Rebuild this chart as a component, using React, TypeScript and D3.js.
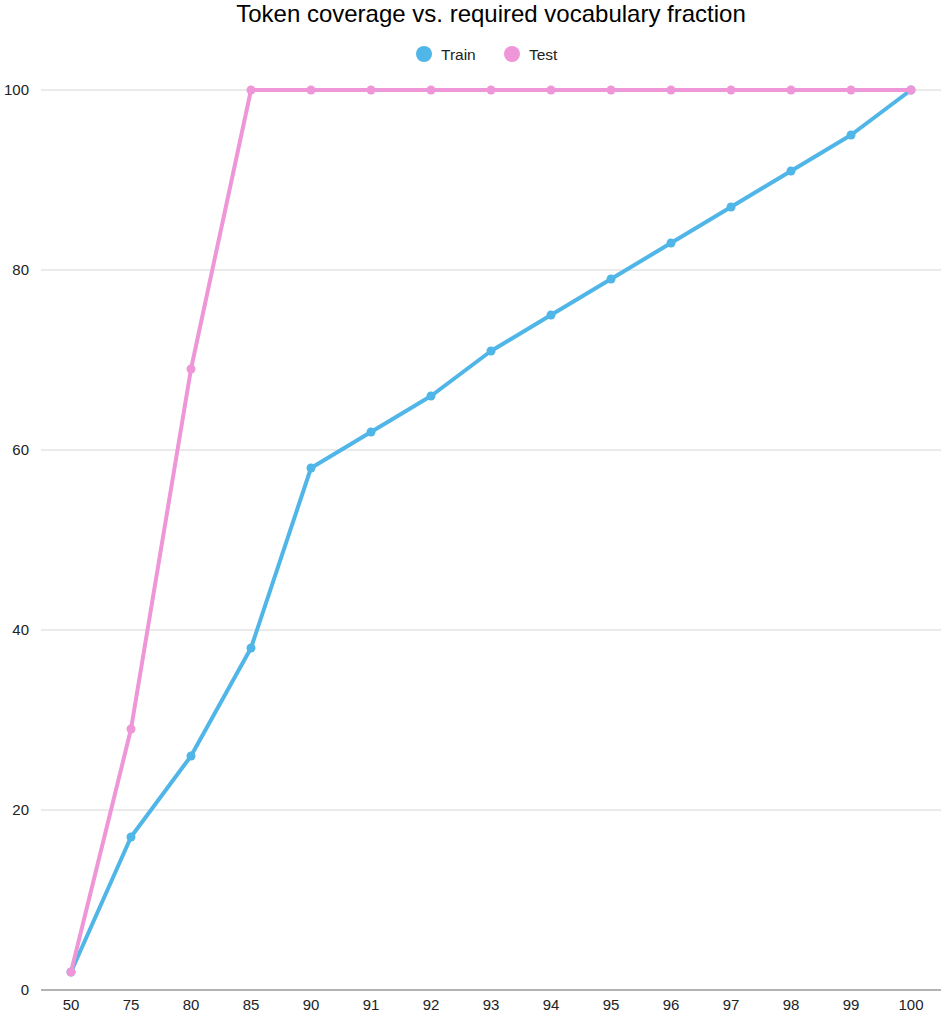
import * as d3 from "d3";

const categories = ["50", "75", "80", "85", "90", "91", "92", "93", "94", "95", "96", "97", "98", "99", "100"];
const trainValues = [2, 17, 26, 38, 58, 62, 66, 71, 75, 79, 83, 87, 91, 95, 100];
const testValues = [2, 29, 69, 100, 100, 100, 100, 100, 100, 100, 100, 100, 100, 100, 100];
const yTicks = [0, 20, 40, 60, 80, 100];

const series = [
  { name: "Train", values: trainValues, color: "#4fb6e7" },
  { name: "Test", values: testValues, color: "#ee96d7" },
];

const width = 944;
const height = 1012;
const margin = { top: 90, right: 3, bottom: 22, left: 41 };
const font = "'Liberation Sans', Arial, sans-serif";

export default function App() {
  const innerW = width - margin.left - margin.right;
  const innerH = height - margin.top - margin.bottom;

  // categorical x, one band per category
  const x = d3.scalePoint<string>().domain(categories).range([0, innerW]).padding(0.5);
  const y = d3.scaleLinear().domain([0, 100]).range([innerH, 0]);

  const line = d3
    .line<number>()
    .x((_, i) => x(categories[i]) ?? 0)
    .y((d) => y(d));

  return (
    <svg
      width={width}
      height={height}
      style={{ position: "absolute", left: 0, top: 0, background: "#fff" }}
      fontFamily={font}
    >
      <text x={491} y={22} textAnchor="middle" fontSize={24} fill="#000">
        Token coverage vs. required vocabulary fraction
      </text>

      {/* legend */}
      <g fontSize={15.5} fill="#222">
        <circle cx={424} cy={54} r={8} fill={series[0].color} />
        <text x={441} y={59.5}>Train</text>
        <circle cx={512} cy={54} r={8} fill={series[1].color} />
        <text x={529} y={59.5}>Test</text>
      </g>

      <g transform={`translate(${margin.left},${margin.top})`}>
        {yTicks.map((t) => (
          <g key={t}>
            <line
              x1={0}
              x2={innerW}
              y1={y(t)}
              y2={y(t)}
              stroke={t === 0 ? "#9a9a9a" : "#d6d6d6"}
              strokeWidth={t === 0 ? 1.5 : 1}
            />
            <text x={-12} y={y(t) + 5} textAnchor="end" fontSize={15} fill="#222">
              {t}
            </text>
          </g>
        ))}
        {categories.map((c) => (
          <text key={c} x={x(c)} y={innerH + 20} textAnchor="middle" fontSize={15} fill="#222">
            {c}
          </text>
        ))}

        {series.map((s) => (
          <g key={s.name}>
            <path d={line(s.values) ?? ""} fill="none" stroke={s.color} strokeWidth={4} strokeLinejoin="round" />
            {s.values.map((v, i) => (
              <circle key={i} cx={x(categories[i])} cy={y(v)} r={4.5} fill={s.color} />
            ))}
          </g>
        ))}
      </g>
    </svg>
  );
}
